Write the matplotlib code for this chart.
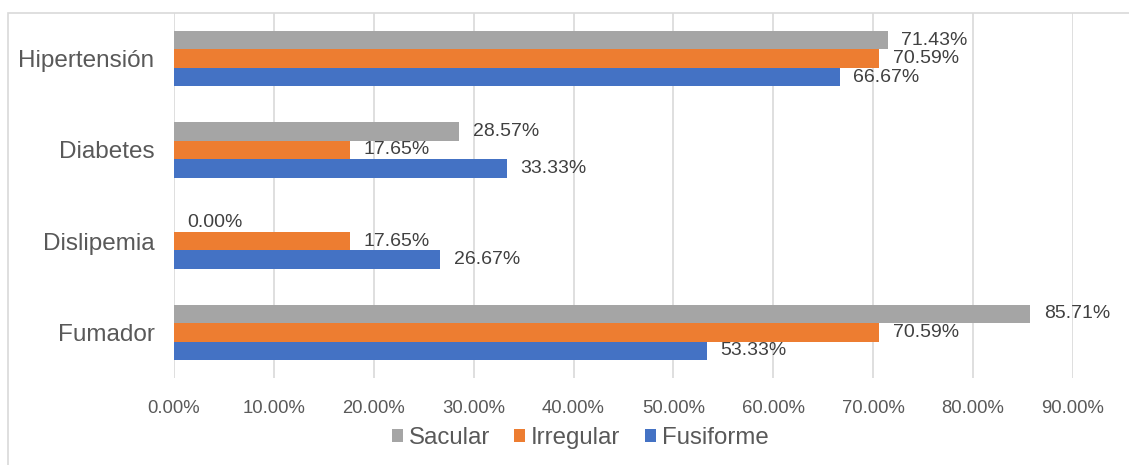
import matplotlib.pyplot as plt
from matplotlib.patches import Rectangle
import numpy as np

# Datos de la gráfica
categorias = ["Hipertensión", "Diabetes", "Dislipemia", "Fumador"]
sacular = [71.43, 28.57, 0.00, 85.71]
irregular = [70.59, 17.65, 17.65, 70.59]
fusiforme = [66.67, 33.33, 26.67, 53.33]
ticks_x = [0, 10, 20, 30, 40, 50, 60, 70, 80, 90]

series = [("Sacular", sacular, "#a5a5a5"),
          ("Irregular", irregular, "#ed7d31"),
          ("Fusiforme", fusiforme, "#4472c4")]

plt.rcParams['font.family'] = ['Liberation Sans', 'DejaVu Sans']
texto = "#595959"

fig = plt.figure(figsize=(11.29, 4.65), dpi=100)
ax = fig.add_axes([174 / 1129, 1 - 378 / 465, (1073 - 174) / 1129, (378 - 13) / 465])

# marco gris alrededor del gráfico
fig.patches.append(Rectangle((8 / 1129, -0.1), 1.2, 1 - 13 / 465 + 0.1, transform=fig.transFigure,
                             fill=False, edgecolor="#d9d9d9", linewidth=1.2))

y = np.arange(len(categorias))
alto = 0.203
for i, (nombre, valores, color) in enumerate(series):
    pos = y + (i - 1) * alto
    ax.barh(pos, valores, height=alto, color=color, label=nombre, zorder=3)
    for p, v in zip(pos, valores):
        ax.text(v + 1.35, p, f"{v:.2f}%", va="center", ha="left", fontsize=14, color="#404040", zorder=4)

ax.set_xlim(0, 90)
ax.set_ylim(len(categorias) - 0.5, -0.5)
ax.set_yticks(y)
ax.set_yticklabels(categorias, fontsize=17.5, color=texto)
ax.set_xticks(ticks_x)
ax.set_xticklabels([f"{t:.2f}%" for t in ticks_x], fontsize=13.3, color=texto)
ax.tick_params(axis="y", length=0, pad=14)
ax.tick_params(axis="x", length=0, pad=16)
ax.grid(axis="x", color="#d9d9d9", linewidth=1.2, zorder=0)
for s in ax.spines.values():
    s.set_visible(False)

leg = fig.legend(loc="center", bbox_to_anchor=(580 / 1129, 1 - 438 / 465), ncol=3, frameon=False,
                 fontsize=17.3, handlelength=0.46, handleheight=0.46, handletextpad=0.25,
                 columnspacing=1.0, borderpad=0, borderaxespad=0)
for t in leg.get_texts():
    t.set_color(texto)

fig.savefig("out.png", dpi=100)
